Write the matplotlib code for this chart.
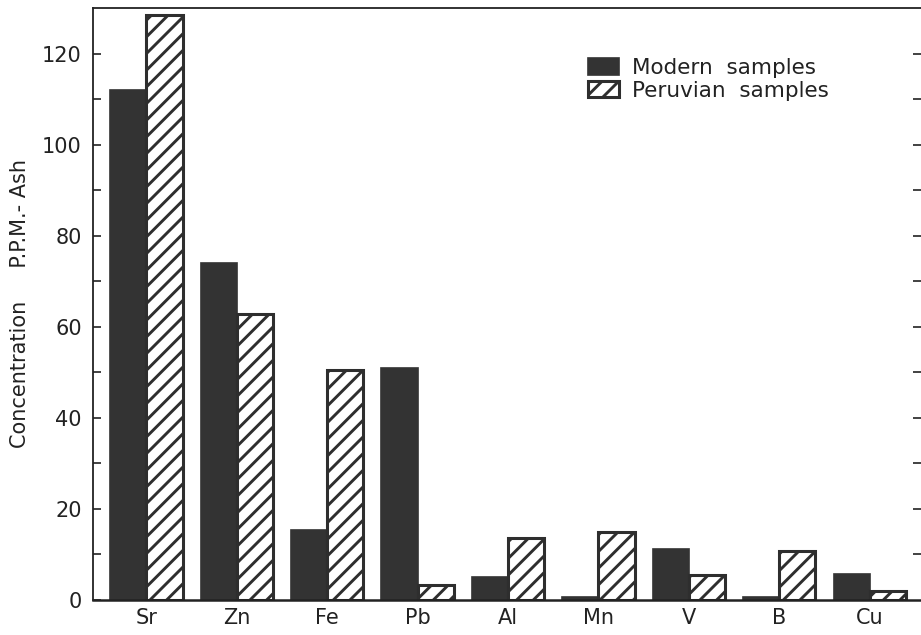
import matplotlib
matplotlib.use("Agg")
import matplotlib.pyplot as plt
import numpy as np

elements = ["Sr", "Zn", "Fe", "Pb", "Al", "Mn", "V", "B", "Cu"]
modern = [112, 74, 15.4, 51, 5.0, 0.6, 11.2, 0.6, 5.7]
peruvian = [128.5, 62.8, 50.5, 3.4, 13.6, 15.0, 5.5, 10.8, 2.0]
series_labels = ["Modern  samples", "Peruvian  samples"]
y_major = [0, 20, 40, 60, 80, 100, 120]
y_minor = [10, 30, 50, 70, 90, 110]
y_right = [10, 20, 30, 40, 50, 60, 70, 80, 90, 100, 110, 120]

plt.rcParams['font.family'] = ['DejaVu Sans']
plt.rcParams['hatch.linewidth'] = 2.1
plt.rcParams['hatch.color'] = '#2e2e2e'

fig = plt.figure(figsize=(9.21, 6.35), dpi=100)
ax = fig.add_axes([93/921, 1 - 600/635, 1 - 93/921, (600 - 8)/635])

dark = '#333333'
x = np.arange(len(elements))
w = 0.40
ax.bar(x - w/2, modern, width=w, color=dark, edgecolor=dark, linewidth=1.2,
       label=series_labels[0])
ax.bar(x + w/2, peruvian, width=w, color='white', edgecolor='#2e2e2e',
       linewidth=2.2, hatch='//', label=series_labels[1])

ax.set_xlim(-0.59, 8.567)
ax.set_ylim(0, 130)

ax.spines['right'].set_visible(False)
for s in ['left', 'top', 'bottom']:
    ax.spines[s].set_linewidth(1.3)
    ax.spines[s].set_color('#222222')
ax.spines['bottom'].set_linewidth(1.8)

ax.set_xticks(x)
ax.set_xticklabels(elements, fontsize=15, color='#222222')
ax.tick_params(axis='x', length=0, pad=6)

ax.set_yticks(y_major)
ax.set_yticks(y_minor, minor=True)
ax.tick_params(axis='y', which='both', direction='in', length=5.5, width=1.2,
               color='#222222', labelsize=15, pad=8, labelcolor='#222222')

# right-side ticks
ax2 = ax.twinx()
ax2.set_ylim(0, 130)
ax2.set_yticks(y_right)
ax2.tick_params(axis='y', direction='in', length=6, width=1.2, color='#222222',
                labelright=False)
for s in ax2.spines.values():
    s.set_visible(False)

ax.set_ylabel("Concentration     P.P.M.- Ash", fontsize=15, color='#222222',
              labelpad=9)

leg = ax.legend(loc='upper left', bbox_to_anchor=((588-93)/828, (600-58)/592),
                frameon=False, fontsize=15.5, handlelength=1.45, handleheight=0.8,
                handletextpad=0.6, labelspacing=0.12, borderpad=0,
                borderaxespad=0)
for t in leg.get_texts():
    t.set_color('#222222')

fig.savefig("out.png", dpi=100)
